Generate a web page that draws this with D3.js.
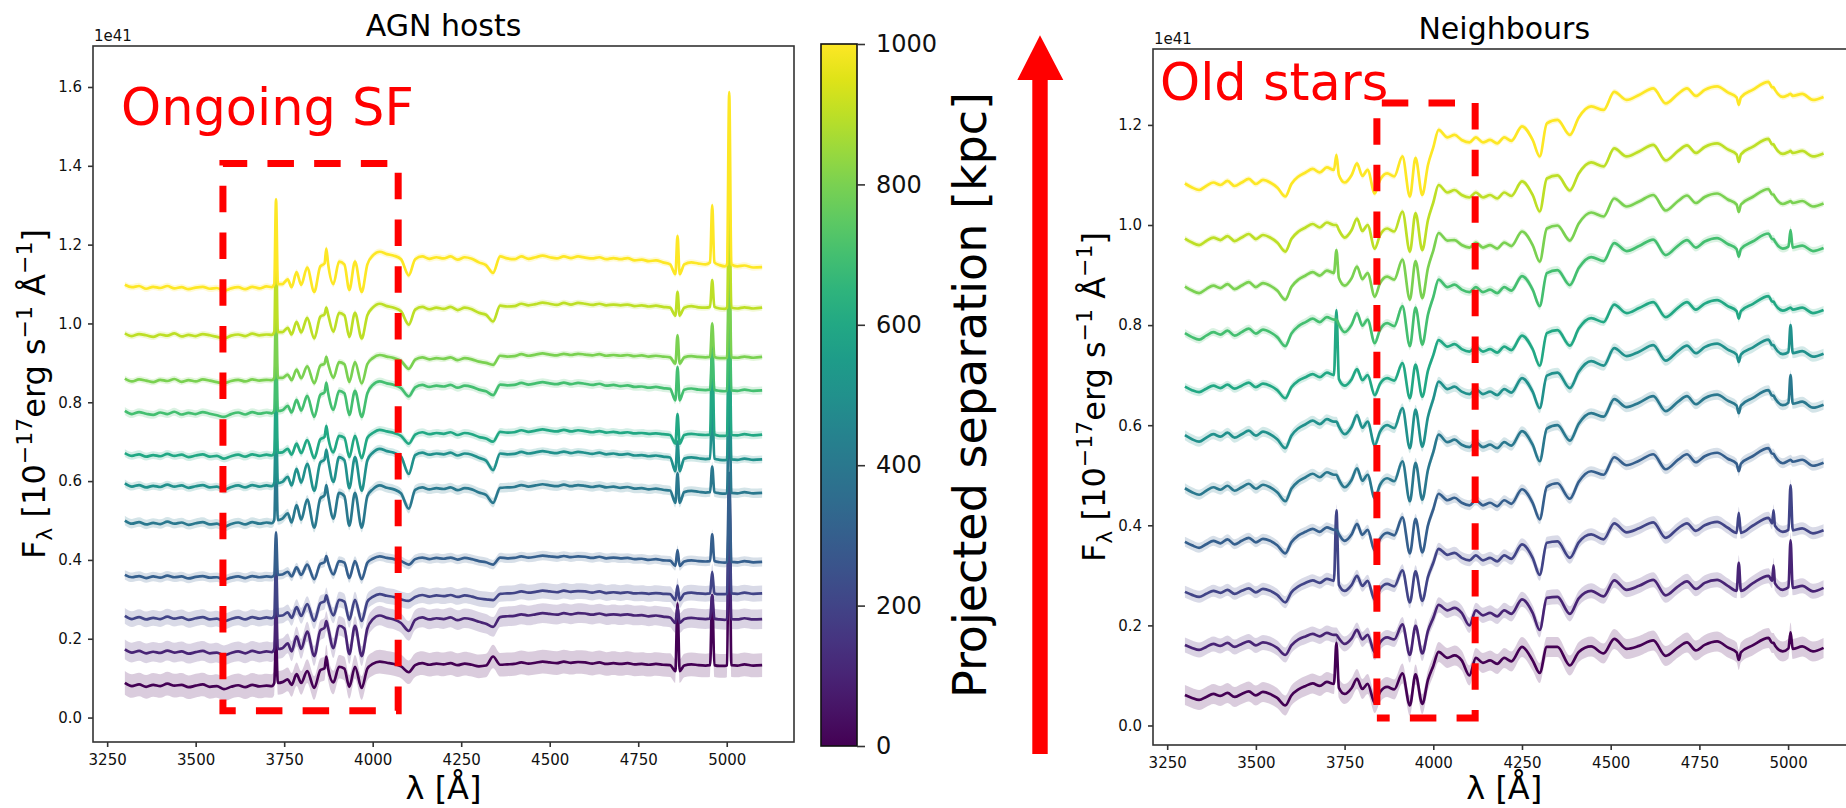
<!DOCTYPE html>
<html>
<head>
<meta charset="utf-8">
<script src="https://cdn.jsdelivr.net/npm/d3@7"></script>
<style>
  html, body { margin: 0; padding: 0; background: #fff; }
  svg { display: block; }
  text { font-family: "DejaVu Sans", sans-serif; white-space: pre; }
</style>
</head>
<body>
<svg id="fig" width="1846" height="808"></svg>
<script>
// Projected separation (kpc) of each stacked spectrum, bottom to top
const separations = [0, 100, 200, 300, 400, 500, 600, 700, 800, 900, 1000];

// ---- AGN hosts: rest-frame wavelength grid (Angstrom) ----
const waveAgn = [3300,3320,3340,3360,3380,3400,3420,3440,3460,3480,3500,3520,3540,3560,3580,3600,3620,3640,3660,3680,3700,
  3715,3722,3727,3732,3745,
  3760,3771,3785,3798,3815,3835,3852,3864,3869,3874,3889,3905,3920,3934,3950,3969,3985,
  4000,4020,4040,4060,4080,
  4102,
  4120,4140,4160,4180,4200,4220,4240,4260,4280,4300,4320,
  4340,
  4360,4380,4400,4420,4440,4460,4480,4500,4520,4540,4560,4580,4600,4620,4640,4660,4680,4700,4720,4740,4760,4780,4800,4820,4840,
  4855,4861,4867,
  4880,4900,4920,4940,
  4953,4959,4965,
  4980,4995,
  5001,5007,5013,
  5030,5050,5075,5100];

// AGN host stacks, flux in units of 1e41 (offset for display)
const agn0 = [0.088,0.080,0.084,0.078,0.083,0.080,0.086,0.081,0.083,0.077,0.081,0.084,0.078,0.080,0.072,0.078,0.082,0.077,0.083,0.079,0.081,
  0.080,0.088,0.200,0.088,0.090,
  0.097,0.083,0.110,0.088,0.118,0.075,0.120,0.125,0.155,0.125,0.089,0.129,0.124,0.078,0.129,0.075,0.124,
  0.136,0.142,0.139,0.136,0.130,
  0.115,
  0.133,0.138,0.134,0.137,0.135,0.138,0.133,0.137,0.134,0.130,0.132,
  0.155,
  0.134,0.135,0.136,0.140,0.137,0.139,0.142,0.140,0.138,0.142,0.139,0.141,0.140,0.137,0.140,0.136,0.138,0.136,0.138,0.135,0.136,0.134,0.136,0.134,0.133,
  0.118,0.290,0.118,
  0.132,0.135,0.133,0.132,
  0.133,0.310,0.133,
  0.131,0.131,
  0.133,0.620,0.133,
  0.132,0.135,0.132,0.133];
const agn100 = [0.173,0.165,0.169,0.163,0.167,0.164,0.170,0.165,0.168,0.162,0.166,0.169,0.163,0.165,0.158,0.164,0.168,0.163,0.169,0.165,0.168,
  0.166,0.174,0.300,0.174,0.176,
  0.188,0.168,0.206,0.174,0.218,0.156,0.221,0.228,0.245,0.228,0.176,0.233,0.226,0.161,0.233,0.156,0.226,
  0.249,0.259,0.253,0.249,0.240,
  0.220,
  0.248,0.254,0.249,0.252,0.250,0.254,0.247,0.252,0.249,0.243,0.238,
  0.230,
  0.255,0.257,0.258,0.262,0.259,0.262,0.265,0.263,0.261,0.265,0.262,0.265,0.264,0.261,0.264,0.260,0.262,0.260,0.262,0.259,0.260,0.257,0.259,0.256,0.254,
  0.240,0.280,0.240,
  0.250,0.253,0.251,0.250,
  0.251,0.310,0.251,
  0.249,0.248,
  0.250,0.480,0.250,
  0.249,0.252,0.249,0.250];
const agn200 = [0.258,0.250,0.255,0.249,0.253,0.250,0.256,0.251,0.254,0.248,0.252,0.255,0.249,0.251,0.244,0.250,0.254,0.249,0.255,0.251,0.254,
  0.252,0.258,0.400,0.258,0.259,
  0.267,0.253,0.280,0.258,0.288,0.245,0.290,0.295,0.310,0.295,0.259,0.299,0.294,0.248,0.299,0.245,0.294,
  0.306,0.313,0.309,0.306,0.300,
  0.296,
  0.306,0.311,0.307,0.310,0.308,0.311,0.306,0.310,0.307,0.302,0.300,
  0.298,
  0.314,0.315,0.316,0.320,0.317,0.319,0.322,0.320,0.318,0.322,0.319,0.321,0.320,0.317,0.320,0.316,0.318,0.316,0.318,0.315,0.316,0.314,0.316,0.314,0.313,
  0.298,0.335,0.298,
  0.314,0.317,0.315,0.314,
  0.315,0.370,0.315,
  0.313,0.313,
  0.315,0.550,0.315,
  0.314,0.317,0.314,0.315];
const agn300 = [0.362,0.356,0.359,0.354,0.358,0.355,0.360,0.356,0.358,0.353,0.357,0.359,0.355,0.356,0.350,0.355,0.358,0.354,0.359,0.356,0.358,
  0.357,0.362,0.470,0.362,0.363,
  0.370,0.358,0.381,0.362,0.388,0.351,0.390,0.394,0.410,0.394,0.363,0.397,0.393,0.354,0.397,0.351,0.393,
  0.403,0.409,0.405,0.402,0.397,
  0.388,
  0.402,0.406,0.402,0.405,0.403,0.406,0.401,0.405,0.402,0.397,0.394,
  0.388,
  0.406,0.404,0.405,0.409,0.406,0.408,0.411,0.409,0.407,0.410,0.407,0.409,0.408,0.405,0.408,0.404,0.406,0.404,0.405,0.402,0.403,0.400,0.402,0.399,0.398,
  0.385,0.425,0.385,
  0.396,0.399,0.397,0.396,
  0.397,0.465,0.397,
  0.394,0.393,
  0.395,0.620,0.395,
  0.394,0.397,0.394,0.395];
const agn400 = [0.500,0.492,0.496,0.490,0.494,0.491,0.497,0.492,0.495,0.489,0.493,0.496,0.490,0.492,0.484,0.491,0.495,0.490,0.496,0.492,0.495,
  0.493,0.501,0.660,0.501,0.505,
  0.518,0.495,0.539,0.502,0.553,0.482,0.556,0.564,0.590,0.564,0.505,0.570,0.562,0.487,0.570,0.482,0.562,
  0.579,0.589,0.583,0.579,0.569,
  0.530,
  0.578,0.584,0.579,0.582,0.580,0.584,0.577,0.582,0.579,0.571,0.565,
  0.545,
  0.583,0.584,0.585,0.590,0.586,0.589,0.592,0.589,0.587,0.591,0.587,0.590,0.588,0.585,0.588,0.584,0.586,0.583,0.585,0.581,0.582,0.579,0.581,0.578,0.576,
  0.545,0.620,0.545,
  0.572,0.575,0.573,0.571,
  0.572,0.637,0.572,
  0.569,0.568,
  0.570,0.850,0.570,
  0.569,0.572,0.569,0.570];
const agn500 = [0.594,0.586,0.590,0.584,0.588,0.585,0.591,0.586,0.589,0.583,0.587,0.590,0.584,0.586,0.578,0.585,0.589,0.584,0.590,0.586,0.589,
  0.587,0.595,0.760,0.595,0.598,
  0.611,0.589,0.631,0.596,0.644,0.576,0.647,0.655,0.680,0.655,0.598,0.661,0.653,0.582,0.661,0.576,0.653,
  0.672,0.682,0.676,0.672,0.662,
  0.618,
  0.666,0.672,0.667,0.670,0.668,0.672,0.665,0.670,0.667,0.659,0.652,
  0.628,
  0.670,0.668,0.669,0.674,0.670,0.673,0.676,0.673,0.671,0.675,0.671,0.674,0.672,0.669,0.672,0.668,0.670,0.667,0.669,0.665,0.666,0.663,0.665,0.662,0.660,
  0.625,0.700,0.625,
  0.657,0.660,0.658,0.656,
  0.657,0.800,0.657,
  0.654,0.653,
  0.655,0.950,0.655,
  0.654,0.657,0.654,0.655];
const agn600 = [0.671,0.664,0.668,0.662,0.666,0.663,0.669,0.664,0.667,0.661,0.665,0.668,0.662,0.664,0.657,0.663,0.667,0.662,0.668,0.664,0.667,
  0.665,0.672,0.860,0.672,0.673,
  0.682,0.667,0.695,0.671,0.704,0.658,0.706,0.712,0.740,0.712,0.673,0.715,0.710,0.661,0.715,0.658,0.710,
  0.722,0.730,0.726,0.722,0.715,
  0.695,
  0.718,0.724,0.719,0.722,0.720,0.724,0.717,0.722,0.719,0.712,0.708,
  0.700,
  0.725,0.723,0.724,0.729,0.725,0.728,0.731,0.728,0.726,0.730,0.726,0.729,0.727,0.724,0.727,0.723,0.725,0.722,0.724,0.721,0.722,0.720,0.721,0.719,0.717,
  0.695,0.770,0.695,
  0.717,0.720,0.718,0.717,
  0.718,0.960,0.718,
  0.715,0.715,
  0.717,1.050,0.717,
  0.716,0.719,0.716,0.718];
const agn700 = [0.778,0.770,0.775,0.771,0.768,0.774,0.770,0.776,0.769,0.773,0.770,0.775,0.771,0.767,0.763,0.770,0.774,0.769,0.775,0.771,0.774,
  0.772,0.778,0.950,0.778,0.780,
  0.791,0.774,0.806,0.779,0.816,0.763,0.819,0.825,0.850,0.825,0.781,0.829,0.823,0.768,0.829,0.763,0.823,
  0.844,0.853,0.848,0.844,0.836,
  0.815,
  0.838,0.844,0.839,0.842,0.840,0.844,0.837,0.842,0.839,0.832,0.828,
  0.818,
  0.845,0.843,0.844,0.849,0.845,0.848,0.851,0.848,0.846,0.850,0.846,0.849,0.847,0.844,0.847,0.842,0.844,0.841,0.843,0.839,0.840,0.837,0.839,0.836,0.834,
  0.805,0.890,0.805,
  0.832,0.835,0.832,0.831,
  0.832,0.930,0.832,
  0.829,0.828,
  0.830,1.100,0.830,
  0.829,0.832,0.829,0.830];
const agn800 = [0.860,0.853,0.858,0.855,0.851,0.857,0.854,0.859,0.852,0.856,0.853,0.858,0.855,0.851,0.848,0.854,0.857,0.853,0.858,0.855,0.857,
  0.856,0.862,1.050,0.862,0.862,
  0.870,0.856,0.883,0.861,0.891,0.848,0.893,0.898,0.915,0.898,0.862,0.902,0.897,0.852,0.902,0.848,0.897,
  0.912,0.920,0.916,0.912,0.905,
  0.885,
  0.908,0.914,0.909,0.912,0.910,0.914,0.907,0.912,0.909,0.903,0.900,
  0.895,
  0.918,0.916,0.917,0.922,0.918,0.921,0.924,0.921,0.919,0.923,0.920,0.923,0.921,0.919,0.922,0.918,0.920,0.918,0.920,0.917,0.919,0.916,0.918,0.916,0.914,
  0.898,0.970,0.898,
  0.914,0.917,0.915,0.914,
  0.915,1.000,0.915,
  0.912,0.912,
  0.914,1.200,0.914,
  0.913,0.916,0.913,0.915];
const agn900 = [0.975,0.968,0.973,0.970,0.966,0.972,0.969,0.975,0.967,0.971,0.968,0.973,0.970,0.966,0.962,0.969,0.972,0.968,0.974,0.970,0.972,
  0.971,0.978,1.200,0.978,0.978,
  0.989,0.972,1.004,0.977,1.014,0.962,1.017,1.023,1.040,1.023,0.979,1.027,1.021,0.966,1.027,0.962,1.021,
  1.040,1.050,1.044,1.040,1.031,
  0.997,
  1.035,1.042,1.036,1.040,1.037,1.042,1.034,1.040,1.036,1.027,1.022,
  1.005,
  1.045,1.043,1.044,1.050,1.046,1.049,1.053,1.050,1.047,1.052,1.048,1.052,1.050,1.047,1.050,1.046,1.048,1.046,1.048,1.044,1.046,1.043,1.045,1.042,1.040,
  1.020,1.080,1.020,
  1.040,1.044,1.041,1.040,
  1.042,1.110,1.042,
  1.038,1.037,
  1.040,1.330,1.040,
  1.038,1.041,1.038,1.040];
const agn1000 = [1.098,1.092,1.095,1.088,1.093,1.090,1.095,1.089,1.092,1.087,1.091,1.093,1.088,1.090,1.083,1.089,1.092,1.087,1.093,1.089,1.094,
  1.092,1.100,1.315,1.100,1.100,
  1.112,1.092,1.130,1.098,1.142,1.080,1.145,1.152,1.190,1.152,1.100,1.157,1.150,1.085,1.157,1.080,1.150,
  1.172,1.182,1.176,1.172,1.163,
  1.122,
  1.163,1.170,1.164,1.168,1.165,1.170,1.162,1.168,1.164,1.155,1.148,
  1.128,
  1.170,1.165,1.163,1.170,1.164,1.168,1.172,1.168,1.165,1.170,1.166,1.170,1.167,1.165,1.168,1.163,1.166,1.163,1.166,1.160,1.162,1.158,1.160,1.155,1.150,
  1.125,1.222,1.125,
  1.150,1.155,1.152,1.150,
  1.155,1.300,1.155,
  1.148,1.145,
  1.150,1.587,1.150,
  1.145,1.147,1.142,1.143];
// half-width of the unsmoothed (noisy) spectrum around each stack
const agnSpread = [0.030, 0.025, 0.020, 0.012, 0.012, 0.010, 0.010, 0.010, 0.008, 0.008, 0.008];

// ---- Neighbours: rest-frame wavelength grid (Angstrom) ----
const waveNbr = [3300,3320,3340,3360,3380,3400,3420,3440,3460,3480,3500,3520,3540,3560,3583,3600,3620,3640,3660,3680,3700,
  3720,3727,3734,3750,3770,3785,3800,3815,3835,3850,3870,3890,3913,3934,3950,3969,3985,4000,4015,4040,
  4060,4080,4102,4120,4140,4160,4180,4200,4220,4250,4280,4300,4320,4350,4385,4410,4445,4480,4510,4545,4580,4620,4655,4690,
  4715,4740,4765,4800,4830,4855,4861,4867,4900,4945,4955,4959,4963,4985,5001,5007,5013,5040,5070,5100];

const nbr0 = [0.061,0.055,0.051,0.057,0.063,0.059,0.065,0.057,0.063,0.068,0.060,0.067,0.063,0.055,0.040,0.060,0.072,0.079,0.084,0.079,0.087,
  0.083,0.165,0.075,0.063,0.075,0.093,0.073,0.083,0.045,0.067,0.077,0.072,0.104,0.040,0.102,0.043,0.091,0.119,0.147,0.135,
  0.140,0.130,0.100,0.135,0.125,0.130,0.123,0.135,0.128,0.157,0.130,0.105,0.157,0.157,0.120,0.147,0.158,0.144,0.173,0.153,0.159,0.170,0.139,0.156,
  0.166,0.150,0.161,0.168,0.156,0.146,0.131,0.146,0.160,0.175,0.165,0.165,0.160,0.148,0.154,0.186,0.153,0.158,0.148,0.155];
const nbr100 = [0.161,0.155,0.151,0.157,0.163,0.159,0.165,0.157,0.163,0.168,0.160,0.166,0.163,0.155,0.141,0.160,0.172,0.178,0.183,0.178,0.185,
  0.181,0.181,0.174,0.163,0.174,0.191,0.172,0.181,0.146,0.166,0.176,0.172,0.202,0.141,0.199,0.144,0.189,0.215,0.241,0.230,
  0.235,0.225,0.200,0.230,0.220,0.225,0.218,0.230,0.223,0.252,0.225,0.191,0.255,0.257,0.223,0.254,0.269,0.258,0.290,0.271,0.279,0.291,0.260,0.278,
  0.288,0.273,0.285,0.291,0.279,0.269,0.325,0.269,0.284,0.299,0.289,0.320,0.284,0.271,0.276,0.370,0.275,0.279,0.268,0.275];
const nbr200 = [0.267,0.261,0.257,0.263,0.269,0.265,0.271,0.263,0.269,0.274,0.266,0.273,0.269,0.261,0.246,0.266,0.278,0.285,0.290,0.285,0.293,
  0.289,0.430,0.281,0.269,0.281,0.299,0.279,0.289,0.251,0.273,0.283,0.278,0.310,0.246,0.308,0.249,0.297,0.325,0.353,0.341,
  0.345,0.335,0.330,0.340,0.330,0.335,0.328,0.340,0.333,0.362,0.335,0.301,0.365,0.368,0.335,0.366,0.382,0.372,0.404,0.386,0.394,0.406,0.375,0.394,
  0.404,0.389,0.400,0.407,0.395,0.385,0.425,0.385,0.399,0.415,0.404,0.430,0.399,0.387,0.391,0.480,0.390,0.394,0.384,0.390];
const nbr300 = [0.367,0.360,0.355,0.362,0.369,0.364,0.372,0.362,0.369,0.375,0.366,0.373,0.369,0.360,0.344,0.366,0.380,0.387,0.393,0.387,0.396,
  0.391,0.391,0.382,0.369,0.382,0.403,0.381,0.391,0.349,0.373,0.385,0.380,0.416,0.344,0.413,0.346,0.400,0.432,0.463,0.450,
  0.455,0.445,0.440,0.450,0.440,0.445,0.438,0.450,0.443,0.472,0.445,0.412,0.477,0.484,0.453,0.487,0.508,0.501,0.536,0.520,0.529,0.542,0.512,0.531,
  0.542,0.526,0.538,0.545,0.533,0.523,0.508,0.523,0.538,0.554,0.543,0.543,0.538,0.524,0.529,0.531,0.527,0.531,0.519,0.525];
const nbr400 = [0.474,0.466,0.461,0.469,0.476,0.471,0.479,0.469,0.476,0.483,0.473,0.481,0.476,0.466,0.448,0.473,0.488,0.496,0.503,0.496,0.506,
  0.501,0.501,0.491,0.476,0.491,0.514,0.489,0.501,0.454,0.481,0.494,0.488,0.528,0.448,0.525,0.451,0.511,0.546,0.581,0.566,
  0.571,0.561,0.556,0.566,0.556,0.561,0.554,0.566,0.559,0.588,0.561,0.528,0.593,0.600,0.569,0.603,0.624,0.617,0.652,0.636,0.645,0.658,0.628,0.647,
  0.658,0.642,0.654,0.661,0.649,0.639,0.624,0.639,0.654,0.670,0.659,0.659,0.654,0.640,0.645,0.700,0.643,0.647,0.635,0.641];
const nbr500 = [0.580,0.572,0.567,0.575,0.582,0.577,0.585,0.575,0.582,0.589,0.579,0.587,0.582,0.572,0.554,0.579,0.594,0.602,0.609,0.602,0.612,
  0.607,0.607,0.597,0.582,0.597,0.620,0.595,0.607,0.560,0.587,0.600,0.594,0.634,0.554,0.631,0.557,0.617,0.652,0.687,0.672,
  0.677,0.667,0.662,0.672,0.662,0.667,0.660,0.672,0.665,0.694,0.667,0.634,0.699,0.705,0.674,0.707,0.728,0.719,0.754,0.738,0.747,0.760,0.729,0.748,
  0.759,0.744,0.756,0.763,0.751,0.741,0.726,0.741,0.755,0.771,0.760,0.760,0.755,0.742,0.746,0.800,0.744,0.748,0.737,0.743];
const nbr600 = [0.677,0.670,0.666,0.673,0.679,0.674,0.681,0.673,0.679,0.685,0.676,0.683,0.679,0.670,0.654,0.676,0.689,0.696,0.702,0.696,0.705,
  0.700,0.830,0.692,0.679,0.692,0.712,0.690,0.700,0.660,0.683,0.694,0.689,0.724,0.654,0.721,0.657,0.709,0.740,0.770,0.757,
  0.762,0.752,0.747,0.757,0.747,0.752,0.745,0.757,0.750,0.779,0.752,0.719,0.784,0.790,0.759,0.793,0.814,0.806,0.841,0.824,0.834,0.846,0.816,0.835,
  0.846,0.831,0.843,0.850,0.838,0.828,0.813,0.828,0.842,0.858,0.847,0.847,0.842,0.829,0.833,0.835,0.831,0.835,0.824,0.830];
const nbr700 = [0.784,0.776,0.771,0.779,0.786,0.781,0.789,0.779,0.786,0.793,0.783,0.791,0.786,0.776,0.758,0.783,0.798,0.806,0.813,0.806,0.816,
  0.811,0.811,0.801,0.786,0.801,0.824,0.799,0.811,0.764,0.791,0.804,0.798,0.838,0.758,0.835,0.761,0.821,0.856,0.891,0.876,
  0.881,0.871,0.866,0.876,0.866,0.871,0.864,0.876,0.869,0.898,0.871,0.838,0.904,0.910,0.880,0.914,0.936,0.928,0.964,0.948,0.958,0.971,0.940,0.959,
  0.970,0.955,0.967,0.974,0.962,0.952,0.937,0.952,0.967,0.983,0.972,0.972,0.967,0.953,0.957,0.990,0.955,0.959,0.948,0.954];
const nbr800 = [0.877,0.869,0.864,0.872,0.879,0.874,0.882,0.872,0.879,0.886,0.876,0.884,0.879,0.869,0.851,0.876,0.891,0.899,0.906,0.899,0.909,
  0.904,0.950,0.894,0.879,0.894,0.917,0.892,0.904,0.857,0.884,0.897,0.891,0.931,0.851,0.928,0.854,0.914,0.949,0.984,0.969,
  0.970,0.960,0.955,0.965,0.955,0.960,0.953,0.965,0.958,0.987,0.960,0.927,0.993,0.999,0.969,1.003,1.025,1.017,1.053,1.037,1.047,1.060,1.029,1.048,
  1.059,1.044,1.056,1.063,1.051,1.041,1.026,1.041,1.056,1.072,1.061,1.061,1.056,1.042,1.046,1.048,1.044,1.048,1.037,1.043];
const nbr900 = [0.973,0.965,0.960,0.968,0.975,0.970,0.978,0.968,0.975,0.982,0.972,0.980,0.975,0.965,0.947,0.972,0.987,0.995,1.002,0.995,1.005,
  1.000,1.000,0.990,0.975,0.990,1.013,0.988,1.000,0.953,0.980,0.993,0.987,1.027,0.947,1.024,0.950,1.010,1.045,1.080,1.065,
  1.070,1.060,1.055,1.065,1.055,1.060,1.053,1.065,1.058,1.087,1.060,1.027,1.093,1.099,1.069,1.103,1.125,1.117,1.153,1.137,1.147,1.160,1.129,1.148,
  1.159,1.144,1.156,1.163,1.151,1.141,1.126,1.141,1.156,1.172,1.161,1.161,1.156,1.142,1.146,1.148,1.144,1.148,1.137,1.143];
const nbr1000 = [1.083,1.075,1.070,1.078,1.085,1.080,1.088,1.078,1.085,1.092,1.082,1.090,1.085,1.075,1.057,1.082,1.097,1.105,1.112,1.105,1.115,
  1.110,1.140,1.100,1.085,1.100,1.123,1.098,1.110,1.063,1.090,1.103,1.097,1.137,1.057,1.134,1.060,1.120,1.155,1.190,1.175,
  1.180,1.170,1.165,1.175,1.165,1.170,1.163,1.175,1.168,1.197,1.170,1.137,1.203,1.210,1.180,1.215,1.237,1.230,1.266,1.250,1.260,1.273,1.243,1.262,
  1.273,1.258,1.270,1.277,1.265,1.255,1.240,1.255,1.270,1.286,1.275,1.275,1.270,1.256,1.260,1.262,1.258,1.262,1.250,1.256];
const nbrSpread = [0.020, 0.015, 0.012, 0.010, 0.010, 0.010, 0.008, 0.008, 0.006, 0.006, 0.006];

// ---- axis ticks ----
const xTicks = [3250, 3500, 3750, 4000, 4250, 4500, 4750, 5000];
const yTicksAgn = [0.0, 0.2, 0.4, 0.6, 0.8, 1.0, 1.2, 1.4, 1.6];
const yTicksNbr = [0.0, 0.2, 0.4, 0.6, 0.8, 1.0, 1.2];
const cbarTicks = [0, 200, 400, 600, 800, 1000];

// highlighted wavelength windows: [lambda_min, lambda_max, flux_min, flux_max]
const windowAgn = [3577, 4072, 0.017, 1.406];
const windowNbr = [3841, 4118, 0.015, 1.244];

const agnSpectra = [agn0, agn100, agn200, agn300, agn400, agn500, agn600, agn700, agn800, agn900, agn1000];
const nbrSpectra = [nbr0, nbr100, nbr200, nbr300, nbr400, nbr500, nbr600, nbr700, nbr800, nbr900, nbr1000];

const svg = d3.select("#fig");
svg.append("rect").attr("width", 1846).attr("height", 808).attr("fill", "#fff");

const color = d3.scaleSequential(d3.interpolateViridis).domain([0, 1000]);

function drawPanel(p) {
  const x = d3.scaleLinear().domain([3210, 5190]).range([p.left, p.right]);
  const y = d3.scaleLinear().domain(p.yDomain).range([p.bottom, p.top]);
  const g = svg.append("g");

  // spectra: faint noisy envelope, then the smoothed stack on top
  p.spectra.forEach((flux, k) => {
    const c = color(separations[k]);
    const pts = p.waves.map((w, i) => [w, flux[i]]);
    const s = p.spread[k];
    g.append("path")
      .attr("d", d3.area().curve(d3.curveMonotoneX)
        .x(d => x(d[0])).y0(d => y(d[1] - s)).y1(d => y(d[1] + s))(pts))
      .attr("fill", c).attr("fill-opacity", 0.2);
    g.append("path")
      .attr("d", d3.line().curve(d3.curveMonotoneX).x(d => x(d[0])).y(d => y(d[1]))(pts))
      .attr("fill", "none").attr("stroke", c).attr("stroke-width", 2.7)
      .attr("stroke-linejoin", "round");
  });

  // dashed highlight window (path: bottom-left -> bottom-right -> top-right -> top-left)
  const [wl0, wl1, wf0, wf1] = p.window;
  g.append("path")
    .attr("d", `M${x(wl0)},${y(wf0)}H${x(wl1)}V${y(wf1)}H${x(wl0)}Z`)
    .attr("fill", "none").attr("stroke", "#ff0000").attr("stroke-width", 7)
    .attr("stroke-dasharray", "26.5,20.2").attr("stroke-dashoffset", 13.7);

  // frame
  svg.append("rect")
    .attr("x", p.left).attr("y", p.top)
    .attr("width", p.right - p.left).attr("height", p.bottom - p.top)
    .attr("fill", "none").attr("stroke", "#333").attr("stroke-width", 1.6);

  // axes
  const ya = svg.append("g").attr("transform", `translate(${p.left},0)`)
    .call(d3.axisLeft(y).tickValues(p.yTicks).tickFormat(d3.format(".1f"))
      .tickSizeInner(5).tickSizeOuter(0).tickPadding(6));
  const xa = svg.append("g").attr("transform", `translate(0,${p.bottom})`)
    .call(d3.axisBottom(x).tickValues(xTicks).tickFormat(d3.format("d"))
      .tickSizeInner(5).tickSizeOuter(0).tickPadding(7));
  [ya, xa].forEach(a => {
    a.select(".domain").remove();
    a.selectAll(".tick line").attr("stroke", "#333").attr("stroke-width", 1.6);
    a.selectAll(".tick text").attr("font-family", "DejaVu Sans").attr("font-size", 15).attr("fill", "#111");
  });

  // offset text
  svg.append("text").attr("x", p.left + 1).attr("y", p.top - 5)
    .attr("font-size", 15).attr("fill", "#111").text("1e41");

  // title
  svg.append("text").attr("x", (p.left + p.right) / 2).attr("y", p.top - 10)
    .attr("text-anchor", "middle").attr("font-size", 30).attr("fill", "#000").text(p.title);

  // x label
  svg.append("text").attr("x", (p.left + p.right) / 2).attr("y", 799)
    .attr("text-anchor", "middle").attr("font-size", 32).attr("fill", "#000").text("λ [Å]");

  // y label: F_lambda [10^-17 erg s^-1 Å^-1]
  const t = svg.append("text")
    .attr("transform", `translate(${p.ylabX},${(p.top + p.bottom) / 2}) rotate(-90)`)
    .attr("text-anchor", "middle").attr("font-size", 32).attr("fill", "#000");
  t.append("tspan").text("F");
  t.append("tspan").attr("font-size", 22).attr("dy", 7).text("λ");
  t.append("tspan").attr("dy", -7).text(" [10");
  t.append("tspan").attr("font-size", 22).attr("dy", -13).text("−17");
  t.append("tspan").attr("dy", 13).text("erg s");
  t.append("tspan").attr("font-size", 22).attr("dy", -13).text("−1");
  t.append("tspan").attr("dy", 13).text(" Å");
  t.append("tspan").attr("font-size", 22).attr("dy", -13).text("−1");
  t.append("tspan").attr("dy", 13).text("]");

  // red annotation
  svg.append("text").attr("x", p.noteX).attr("y", p.noteY)
    .attr("font-family", "Open Sans").attr("font-size", 51).attr("fill", "#ff0000").text(p.note);
}

drawPanel({
  left: 93, right: 794, top: 46, bottom: 742,
  yDomain: [-0.062, 1.704], yTicks: yTicksAgn,
  waves: waveAgn, spectra: agnSpectra, spread: agnSpread,
  window: windowAgn, title: "AGN hosts", ylabX: 44.5,
  note: "Ongoing SF", noteX: 121, noteY: 125
});
drawPanel({
  left: 1153, right: 1855.5, top: 49, bottom: 745,
  yDomain: [-0.039, 1.3517], yTicks: yTicksNbr,
  waves: waveNbr, spectra: nbrSpectra, spread: nbrSpread,
  window: windowNbr, title: "Neighbours", ylabX: 1104.5,
  note: "Old stars", noteX: 1160, noteY: 100
});

// ---- colour bar ----
const cb = { left: 821, right: 857, top: 44, bottom: 746 };
const cy = d3.scaleLinear().domain([0, 1000]).range([cb.bottom, cb.top]);
const defs = svg.append("defs");
const grad = defs.append("linearGradient").attr("id", "viridisGrad")
  .attr("x1", 0).attr("y1", 1).attr("x2", 0).attr("y2", 0);
d3.range(0, 1.0001, 0.05).forEach(t => {
  grad.append("stop").attr("offset", t).attr("stop-color", d3.interpolateViridis(t));
});
svg.append("rect").attr("x", cb.left).attr("y", cb.top)
  .attr("width", cb.right - cb.left).attr("height", cb.bottom - cb.top)
  .attr("fill", "url(#viridisGrad)").attr("stroke", "#111").attr("stroke-width", 1.6);
const cax = svg.append("g").attr("transform", `translate(${cb.right},0)`)
  .call(d3.axisRight(cy).tickValues(cbarTicks).tickFormat(d3.format("d"))
    .tickSizeInner(8).tickSizeOuter(0).tickPadding(11));
cax.select(".domain").remove();
cax.selectAll(".tick line").attr("stroke", "#333").attr("stroke-width", 1.6);
cax.selectAll(".tick text").attr("font-family", "DejaVu Sans").attr("font-size", 24).attr("fill", "#111");

svg.append("text")
  .attr("transform", `translate(985.5,${(cb.top + cb.bottom) / 2}) rotate(-90)`)
  .attr("text-anchor", "middle").attr("font-size", 46).attr("fill", "#000")
  .text("Projected separation [kpc]");

// ---- upward arrow (increasing separation) ----
svg.append("path")
  .attr("d", "M1032.3,754V80H1017.3L1040,35.2L1063.3,80H1047.7V754Z")
  .attr("fill", "#ff0000");
</script>
</body>
</html>
